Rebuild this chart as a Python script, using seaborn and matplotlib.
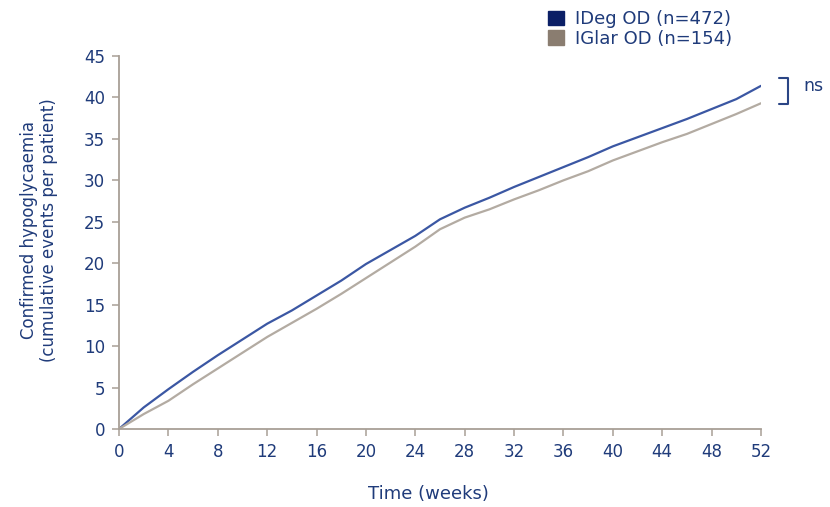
import numpy as np
import pandas as pd
import matplotlib
matplotlib.use("Agg")
import matplotlib.pyplot as plt
import matplotlib.transforms as mtransforms
from matplotlib.patches import Patch
import seaborn as sns

weeks = [0, 2, 4, 6, 8, 10, 12, 14, 16, 18, 20, 22, 24, 26,
         28, 30, 32, 34, 36, 38, 40, 42, 44, 46, 48, 50, 52]
ideg = [0, 2.6, 4.8, 6.9, 8.9, 10.8, 12.7, 14.3, 16.1, 17.9, 19.9, 21.6, 23.3, 25.3,
        26.7, 27.9, 29.2, 30.4, 31.6, 32.8, 34.1, 35.2, 36.3, 37.4, 38.6, 39.8, 41.4]
iglar = [0, 1.8, 3.4, 5.4, 7.3, 9.2, 11.1, 12.8, 14.5, 16.3, 18.2, 20.1, 22.0, 24.1,
         25.5, 26.5, 27.7, 28.8, 30.0, 31.1, 32.4, 33.5, 34.6, 35.6, 36.8, 38.0, 39.3]
series_names = ["IDeg OD (n=472)", "IGlar OD (n=154)"]
x_ticks = list(range(0, 53, 4))
y_ticks = list(range(0, 46, 5))

line_colors = ["#3b57a3", "#b3aba2"]
legend_colors = ["#0b1f66", "#8a7d70"]
text_color = "#1f3b7a"
spine_color = "#a89f96"

df = pd.DataFrame({
    "week": weeks * 2,
    "value": ideg + iglar,
    "series": [series_names[0]] * len(weeks) + [series_names[1]] * len(weeks),
})

sns.set_theme(style="white")
plt.rcParams["font.family"] = ["DejaVu Sans"]

fig = plt.figure(figsize=(8.3, 5.07), dpi=100)
ax = fig.add_axes([119 / 830, 1 - 429 / 507, (761 - 119) / 830, (429 - 56) / 507])

sns.lineplot(data=df, x="week", y="value", hue="series", palette=line_colors,
             hue_order=series_names, ax=ax, linewidth=1.6, legend=False)

ax.set_xlim(0, 52)
ax.set_ylim(0, 45)
ax.set_xticks(x_ticks)
ax.set_yticks(y_ticks)
ax.set_xlabel("")
ax.set_ylabel("")
for side in ["top", "right"]:
    ax.spines[side].set_visible(False)
for side in ["left", "bottom"]:
    ax.spines[side].set_color(spine_color)
    ax.spines[side].set_linewidth(1.3)
ax.tick_params(axis="both", direction="out", length=5, width=1.1, color=spine_color,
               labelcolor=text_color, labelsize=12)
ax.tick_params(axis="x", pad=5, bottom=True)
ax.tick_params(axis="y", pad=5, left=True)

fig.text(428 / 830, 1 - 494 / 507, "Time (weeks)", ha="center", va="center",
         fontsize=13, color=text_color)
fig.text(39 / 830, 1 - 230 / 507, "Confirmed hypoglycaemia\n(cumulative events per patient)",
         ha="center", va="center", rotation=90, fontsize=12, color=text_color,
         linespacing=1.1)

handles = [Patch(facecolor=c, edgecolor=c) for c in legend_colors]
fig.legend(handles, series_names, loc="upper left", bbox_to_anchor=(541 / 830, 1 - 3 / 507),
           frameon=False, fontsize=13, handlelength=0.9, handleheight=0.9,
           handletextpad=0.6, labelspacing=0.1, labelcolor=text_color, borderaxespad=0)

# significance bracket spanning the end values
trans = mtransforms.blended_transform_factory(ax.transAxes, ax.transData)
top = ideg[-1] + 0.9
bot = iglar[-1] - 0.1
ax.plot([1.028, 1.042, 1.042, 1.028], [top, top, bot, bot], color="#2a4585",
        linewidth=1.5, transform=trans, clip_on=False)
ax.text(1.066, (top + bot) / 2 + 0.6, "ns", transform=trans, ha="left", va="center",
        fontsize=12.5, color=text_color, clip_on=False)

fig.savefig("out.png", dpi=100, facecolor="white")
